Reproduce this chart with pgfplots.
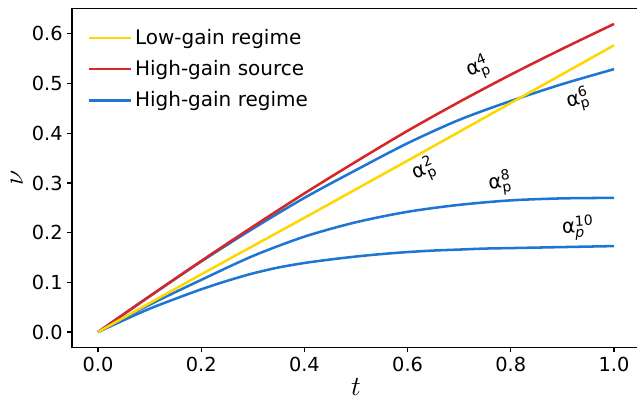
\documentclass[border=0pt]{standalone}
\usepackage{fontspec}
\setmainfont{DejaVu Sans}
\usepackage{amsmath}
\usepackage{pgfplots}
\pgfplotsset{compat=1.18}
\definecolor{cy}{HTML}{FFD700}
\definecolor{cr}{HTML}{D62728}
\definecolor{cb}{HTML}{1E76D2}
\newcommand\ap[1]{$\text{α}_{\text{p}}^{\text{#1}}$}
\newcommand\api[1]{$\text{α}_{\textit{p}}^{\text{#1}}$}
\begin{document}
\begin{tikzpicture}
\begin{axis}[
  scale only axis, width=425.7pt, height=254.2pt,
  xmin=-0.05, xmax=1.05, ymin=-0.031, ymax=0.651,
  xtick={0,0.2,0.4,0.6,0.8,1.0},
  ytick={0,0.1,0.2,0.3,0.4,0.5,0.6},
  /pgf/number format/.cd, fixed, fixed zerofill, precision=1, assume math mode=true,
  /pgfplots/.cd,
  tick pos=left, tick align=outside,
  major tick length=3.6pt,
  tick style={black, line width=0.9pt},
  axis line style={line width=1.2pt},
  ticklabel style={font=\fontsize{14.5}{17}\selectfont},
  xlabel={$t$}, ylabel={$\nu$},
  label style={font=\fontsize{20}{22}\selectfont},
  xlabel style={yshift=1.5pt},
  legend style={draw=none, fill=none, at={(axis description cs:0.02,0.955)}, anchor=north west,
    font=\fontsize{15}{18}\selectfont, row sep=6.5pt},
  legend cell align=left,
  legend image code/.code={\draw[#1] (0pt,0pt) -- (31.5pt,0pt);},
  every axis plot/.append style={line width=1.9pt},
]
% alpha^10
\addplot[cb, smooth, forget plot] coordinates {(0,0) (0.05,0.024) (0.1,0.047) (0.15,0.067) (0.2,0.086) (0.25,0.103) (0.3,0.118) (0.35,0.130) (0.4,0.139) (0.45,0.146) (0.5,0.152) (0.55,0.157) (0.6,0.161) (0.65,0.164) (0.7,0.166) (0.75,0.168) (0.8,0.169) (0.85,0.170) (0.9,0.171) (0.95,0.172) (1.0,0.173)};
% alpha^8
\addplot[cb, smooth, forget plot] coordinates {(0,0) (0.1,0.055) (0.2,0.105) (0.3,0.153) (0.4,0.192) (0.5,0.221) (0.6,0.242) (0.7,0.256) (0.8,0.265) (0.9,0.269) (1.0,0.270)};
% alpha^6
\addplot[cb, smooth, forget plot] coordinates {(0,0) (0.1,0.072) (0.2,0.142) (0.3,0.208) (0.4,0.270) (0.5,0.326) (0.6,0.380) (0.7,0.427) (0.8,0.465) (0.9,0.499) (1.0,0.529)};
% red
\addplot[cr, smooth, forget plot] coordinates {(0,0) (0.1,0.072) (0.2,0.143) (0.3,0.212) (0.4,0.279) (0.5,0.343) (0.6,0.405) (0.7,0.463) (0.8,0.518) (0.9,0.570) (1.0,0.620)};
% yellow
\addplot[cy, smooth, forget plot] coordinates {(0,0) (0.2,0.116) (0.4,0.230) (0.6,0.345) (0.8,0.461) (1.0,0.577)};
\addlegendimage{cy, line width=1.9pt}\addlegendentry{Low-gain regime}
\addlegendimage{cr, line width=1.9pt}\addlegendentry{High-gain source}
\addlegendimage{cb, line width=1.9pt}\addlegendentry{High-gain regime}
\node[rotate=22, font=\fontsize{15}{18}\selectfont] at (axis cs:0.736,0.531) {\ap{4}};
\node[rotate=14, font=\fontsize{15}{18}\selectfont] at (axis cs:0.930,0.467) {\ap{6}};
\node[rotate=24, font=\fontsize{15}{18}\selectfont] at (axis cs:0.632,0.326) {\ap{2}};
\node[rotate=8, font=\fontsize{15}{18}\selectfont] at (axis cs:0.779,0.300) {\ap{8}};
\node[rotate=3, font=\fontsize{15}{18}\selectfont] at (axis cs:0.930,0.209) {\api{10}};
\end{axis}
\pgfresetboundingbox
\path[use as bounding box] ([xshift=-54.15pt, yshift=-40.2pt]current axis.south west) rectangle ([xshift=-2.1pt, yshift=6.4pt]current axis.north east);
\end{tikzpicture}
\end{document}
